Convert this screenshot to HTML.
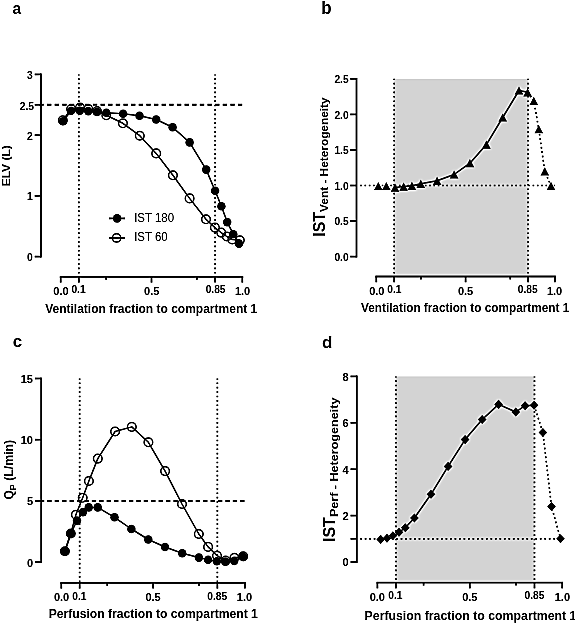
<!DOCTYPE html><html><head><meta charset="utf-8"><style>html,body{margin:0;padding:0;background:#fff;}svg{display:block;}text{font-family:"Liberation Sans", sans-serif;fill:#000;}</style></head><body>
<svg width="575" height="623" viewBox="0 0 575 623">
<defs><filter id="usm" x="0" y="0" width="575" height="623" filterUnits="userSpaceOnUse" color-interpolation-filters="sRGB"><feGaussianBlur in="SourceGraphic" stdDeviation="0.35" result="s"/><feGaussianBlur in="s" stdDeviation="0.9" result="b"/><feComposite in="s" in2="b" operator="arithmetic" k1="0" k2="1.9" k3="-0.9" k4="0"/></filter></defs>
<g filter="url(#usm)">
<rect width="575" height="623" fill="#fff"/>
<text transform="translate(12.6 13.8) scale(0.93 1)" font-size="16.6" font-weight="bold" text-anchor="start" >a</text>
<path d="M78.86 74.41 V276" stroke="#000" stroke-width="1.7" stroke-dasharray="1.6 2.8" stroke-dashoffset="0.45"/>
<path d="M215.06 74.41 V276" stroke="#000" stroke-width="1.7" stroke-dasharray="1.6 2.8" stroke-dashoffset="0.45"/>
<path d="M39.36 104.78 H242.2" stroke="#000" stroke-width="2" stroke-dasharray="4.4 3.24"/>
<path d="M41 73.51 V257.5" stroke="#000" stroke-width="1.8" fill="none"/>
<path d="M34.7 74.41 H41" stroke="#000" stroke-width="1.8"/>
<text transform="translate(32.8 78.81) scale(0.94 1)" font-size="11" font-weight="bold" text-anchor="end" >3</text>
<path d="M34.7 104.78 H41" stroke="#000" stroke-width="1.8"/>
<text transform="translate(34 109.88) scale(0.94 1)" font-size="11" font-weight="bold" text-anchor="end" >2.5</text>
<path d="M34.7 135.14 H41" stroke="#000" stroke-width="1.8"/>
<text transform="translate(32.8 139.84) scale(0.94 1)" font-size="11" font-weight="bold" text-anchor="end" >2</text>
<path d="M34.7 195.87 H41" stroke="#000" stroke-width="1.8"/>
<text transform="translate(32.8 200.37) scale(0.94 1)" font-size="11" font-weight="bold" text-anchor="end" >1</text>
<path d="M34.7 256.6 H41" stroke="#000" stroke-width="1.8"/>
<text transform="translate(32.8 261.1) scale(0.94 1)" font-size="11" font-weight="bold" text-anchor="end" >0</text>
<path d="M59.8 276.8 H243.2" stroke="#000" stroke-width="1.8" fill="none"/>
<path d="M60.7 276.8 V282.6" stroke="#000" stroke-width="1.8"/>
<path d="M78.86 276.8 V282.6" stroke="#000" stroke-width="1.8"/>
<path d="M151.5 276.8 V282.6" stroke="#000" stroke-width="1.8"/>
<path d="M215.06 276.8 V282.6" stroke="#000" stroke-width="1.8"/>
<path d="M242.3 276.8 V282.6" stroke="#000" stroke-width="1.8"/>
<path d="M106.1 276.8 V279.8" stroke="#000" stroke-width="1.8"/>
<path d="M196.9 276.8 V279.8" stroke="#000" stroke-width="1.8"/>
<text x="61.0" y="294.9" font-size="11" font-weight="bold" text-anchor="middle" >0.0</text>
<text transform="translate(78.5 293.4) scale(0.93 1)" font-size="11" font-weight="bold" text-anchor="middle" >0.1</text>
<text x="151.7" y="295.2" font-size="11" font-weight="bold" text-anchor="middle" >0.5</text>
<text transform="translate(215.6 293.0) scale(0.93 1)" font-size="11" font-weight="bold" text-anchor="middle" >0.85</text>
<text x="242.6" y="295.3" font-size="11" font-weight="bold" text-anchor="middle" >1.0</text>
<text x="45.2" y="312.6" font-size="12" font-weight="bold" text-anchor="start" >Ventilation fraction to compartment 1</text>
<text transform="translate(9.9 165.8) rotate(-90)" text-anchor="middle" font-size="11.4" font-weight="bold" textLength="41" lengthAdjust="spacingAndGlyphs">ELV (L)</text>
<path d="M62.80 120.30 L71.10 109.10 L80.00 107.60 L88.30 109.10 L97.00 111.00 L106.30 115.30 L122.90 123.30 L139.80 135.70 L156.20 153.40 L172.90 175.30 L189.60 198.40 L206.00 219.30 L214.90 227.60 L221.20 232.60 L226.80 236.50 L232.30 239.40 L239.80 240.30" fill="none" stroke="#000" stroke-width="1.5" stroke-linejoin="round"/>
<ellipse cx="62.8" cy="120.3" rx="4.3" ry="4.3" fill="none" stroke="#000" stroke-width="1.45"/>
<ellipse cx="71.1" cy="109.1" rx="4.3" ry="4.3" fill="none" stroke="#000" stroke-width="1.45"/>
<ellipse cx="80.0" cy="107.6" rx="4.3" ry="4.3" fill="none" stroke="#000" stroke-width="1.45"/>
<ellipse cx="88.3" cy="109.1" rx="4.3" ry="4.3" fill="none" stroke="#000" stroke-width="1.45"/>
<ellipse cx="97.0" cy="111.0" rx="4.3" ry="4.3" fill="none" stroke="#000" stroke-width="1.45"/>
<ellipse cx="106.3" cy="115.3" rx="4.3" ry="4.3" fill="none" stroke="#000" stroke-width="1.45"/>
<ellipse cx="122.9" cy="123.3" rx="4.3" ry="4.3" fill="none" stroke="#000" stroke-width="1.45"/>
<ellipse cx="139.8" cy="135.7" rx="4.3" ry="4.3" fill="none" stroke="#000" stroke-width="1.45"/>
<ellipse cx="156.2" cy="153.4" rx="4.3" ry="4.3" fill="none" stroke="#000" stroke-width="1.45"/>
<ellipse cx="172.9" cy="175.3" rx="4.3" ry="4.3" fill="none" stroke="#000" stroke-width="1.45"/>
<ellipse cx="189.6" cy="198.4" rx="4.3" ry="4.3" fill="none" stroke="#000" stroke-width="1.45"/>
<ellipse cx="206.0" cy="219.3" rx="4.3" ry="4.3" fill="none" stroke="#000" stroke-width="1.45"/>
<ellipse cx="214.9" cy="227.6" rx="4.3" ry="4.3" fill="none" stroke="#000" stroke-width="1.45"/>
<ellipse cx="221.2" cy="232.6" rx="4.3" ry="4.3" fill="none" stroke="#000" stroke-width="1.45"/>
<ellipse cx="226.8" cy="236.5" rx="4.3" ry="4.3" fill="none" stroke="#000" stroke-width="1.45"/>
<ellipse cx="232.3" cy="239.4" rx="4.3" ry="4.3" fill="none" stroke="#000" stroke-width="1.45"/>
<ellipse cx="239.8" cy="240.3" rx="4.3" ry="4.3" fill="none" stroke="#000" stroke-width="1.45"/>
<path d="M63.00 121.20 L71.10 110.70 L79.80 110.70 L88.30 111.10 L97.00 111.90 L106.30 112.70 L123.10 113.70 L139.50 115.80 L156.20 119.50 L172.60 127.20 L189.60 142.40 L206.20 169.60 L215.10 190.70 L221.40 206.30 L227.20 222.10 L233.30 234.20 L239.00 243.60" fill="none" stroke="#000" stroke-width="1.5" stroke-linejoin="round"/>
<ellipse cx="63.0" cy="121.2" rx="4.25" ry="4.3" fill="#000"/>
<ellipse cx="71.1" cy="110.7" rx="4.25" ry="4.3" fill="#000"/>
<ellipse cx="79.8" cy="110.7" rx="4.25" ry="4.3" fill="#000"/>
<ellipse cx="88.3" cy="111.1" rx="4.25" ry="4.3" fill="#000"/>
<ellipse cx="97.0" cy="111.9" rx="4.25" ry="4.3" fill="#000"/>
<ellipse cx="106.3" cy="112.7" rx="4.25" ry="4.3" fill="#000"/>
<ellipse cx="123.1" cy="113.7" rx="4.25" ry="4.3" fill="#000"/>
<ellipse cx="139.5" cy="115.8" rx="4.25" ry="4.3" fill="#000"/>
<ellipse cx="156.2" cy="119.5" rx="4.25" ry="4.3" fill="#000"/>
<ellipse cx="172.6" cy="127.2" rx="4.25" ry="4.3" fill="#000"/>
<ellipse cx="189.6" cy="142.4" rx="4.25" ry="4.3" fill="#000"/>
<ellipse cx="206.2" cy="169.6" rx="4.25" ry="4.3" fill="#000"/>
<ellipse cx="215.1" cy="190.7" rx="4.25" ry="4.3" fill="#000"/>
<ellipse cx="221.4" cy="206.3" rx="4.25" ry="4.3" fill="#000"/>
<ellipse cx="227.2" cy="222.1" rx="4.25" ry="4.3" fill="#000"/>
<ellipse cx="233.3" cy="234.2" rx="4.25" ry="4.3" fill="#000"/>
<ellipse cx="239.0" cy="243.6" rx="4.25" ry="4.3" fill="#000"/>
<path d="M109.00 218.40 L125.00 218.40" fill="none" stroke="#000" stroke-width="1.8" stroke-linejoin="round"/>
<ellipse cx="117.1" cy="218.4" rx="4.25" ry="4.3" fill="#000"/>
<path d="M109.00 237.90 L125.00 237.90" fill="none" stroke="#000" stroke-width="1.8" stroke-linejoin="round"/>
<ellipse cx="116.6" cy="237.9" rx="4.1" ry="4.2" fill="none" stroke="#000" stroke-width="1.45"/>
<text x="134.2" y="221.9" font-size="12" font-weight="normal" text-anchor="start" textLength="39.9" lengthAdjust="spacingAndGlyphs">IST 180</text>
<text x="134.2" y="241.4" font-size="12" font-weight="normal" text-anchor="start" textLength="33.4" lengthAdjust="spacingAndGlyphs">IST 60</text>
<text transform="translate(321.3 13.8) scale(0.95 1)" font-size="17.8" font-weight="bold" text-anchor="start" >b</text>
<rect x="394.16" y="78.85" width="133.95" height="196.35" fill="#d3d3d3"/>
<path d="M394.16 78.85 V276" stroke="#000" stroke-width="1.7" stroke-dasharray="1.6 2.8" stroke-dashoffset="0.45"/>
<path d="M528.11 78.85 V276" stroke="#000" stroke-width="1.7" stroke-dasharray="1.6 2.8" stroke-dashoffset="0.45"/>
<path d="M360.2 185.50 H555" stroke="#000" stroke-width="1.7" stroke-dasharray="1.6 2.71"/>
<path d="M356.5 77.95 V257.5" stroke="#000" stroke-width="1.8" fill="none"/>
<path d="M350.2 78.85 H356.5" stroke="#000" stroke-width="1.8"/>
<text transform="translate(348.6 83.25) scale(0.93 1)" font-size="11" font-weight="bold" text-anchor="end" >2.5</text>
<path d="M350.2 114.4 H356.5" stroke="#000" stroke-width="1.8"/>
<text transform="translate(348.6 118.8) scale(0.93 1)" font-size="11" font-weight="bold" text-anchor="end" >2.0</text>
<path d="M350.2 149.95 H356.5" stroke="#000" stroke-width="1.8"/>
<text transform="translate(348.6 154.35) scale(0.93 1)" font-size="11" font-weight="bold" text-anchor="end" >1.5</text>
<path d="M350.2 185.5 H356.5" stroke="#000" stroke-width="1.8"/>
<text transform="translate(348.6 189.9) scale(0.93 1)" font-size="11" font-weight="bold" text-anchor="end" >1.0</text>
<path d="M350.2 221.05 H356.5" stroke="#000" stroke-width="1.8"/>
<text transform="translate(348.6 225.45) scale(0.93 1)" font-size="11" font-weight="bold" text-anchor="end" >0.5</text>
<path d="M350.2 256.6 H356.5" stroke="#000" stroke-width="1.8"/>
<text transform="translate(348.6 261.0) scale(0.93 1)" font-size="11" font-weight="bold" text-anchor="end" >0.0</text>
<path d="M375.4 276.5 H555.8" stroke="#000" stroke-width="1.8" fill="none"/>
<path d="M376.3 276.5 V282.3" stroke="#000" stroke-width="1.8"/>
<path d="M394.16 276.5 V282.3" stroke="#000" stroke-width="1.8"/>
<path d="M465.6 276.5 V282.3" stroke="#000" stroke-width="1.8"/>
<path d="M528.11 276.5 V282.3" stroke="#000" stroke-width="1.8"/>
<path d="M554.9 276.5 V282.3" stroke="#000" stroke-width="1.8"/>
<path d="M420.95 276.5 V279.5" stroke="#000" stroke-width="1.8"/>
<path d="M510.25 276.5 V279.5" stroke="#000" stroke-width="1.8"/>
<text x="376.8" y="294.7" font-size="11" font-weight="bold" text-anchor="middle" >0.0</text>
<text transform="translate(394.3 292.7) scale(0.93 1)" font-size="11" font-weight="bold" text-anchor="middle" >0.1</text>
<text x="465.6" y="294.9" font-size="11" font-weight="bold" text-anchor="middle" >0.5</text>
<text transform="translate(527.7 292.7) scale(0.93 1)" font-size="11" font-weight="bold" text-anchor="middle" >0.85</text>
<text x="554.6" y="295.0" font-size="11" font-weight="bold" text-anchor="middle" >1.0</text>
<text x="361.0" y="311.8" font-size="12" font-weight="bold" text-anchor="start" textLength="208.2" lengthAdjust="spacingAndGlyphs">Ventilation fraction to compartment 1</text>
<text transform="translate(324.5 236.8) rotate(-90)" font-weight="bold"><tspan font-size="16">IST</tspan><tspan font-size="11.6" dy="3.6" textLength="114.5" lengthAdjust="spacingAndGlyphs">Vent - Heterogeneity</tspan></text>
<path d="M395.00 187.60 L403.60 186.60 L411.90 185.80 L420.80 183.80 L437.10 180.80 L454.10 174.50 L469.90 163.20 L486.40 144.60 L502.70 117.50 L519.00 90.50 L527.60 92.30" fill="none" stroke="#000" stroke-width="1.5" stroke-linejoin="round"/>
<path d="M527.60 92.30 L533.80 100.90 L538.80 129.20 L544.80 171.30 L551.00 185.80" fill="none" stroke="#000" stroke-width="1.6" stroke-linejoin="round" stroke-dasharray="1.7 2.7"/>
<path d="M378.30 181.90L382.60 190.10L374.00 190.10Z" fill="#000"/>
<path d="M386.30 181.90L390.60 190.10L382.00 190.10Z" fill="#000"/>
<path d="M395.00 183.50L399.30 191.70L390.70 191.70Z" fill="#000"/>
<path d="M403.60 182.50L407.90 190.70L399.30 190.70Z" fill="#000"/>
<path d="M411.90 181.70L416.20 189.90L407.60 189.90Z" fill="#000"/>
<path d="M420.80 179.70L425.10 187.90L416.50 187.90Z" fill="#000"/>
<path d="M437.10 176.70L441.40 184.90L432.80 184.90Z" fill="#000"/>
<path d="M454.10 170.40L458.40 178.60L449.80 178.60Z" fill="#000"/>
<path d="M469.90 159.10L474.20 167.30L465.60 167.30Z" fill="#000"/>
<path d="M486.40 140.50L490.70 148.70L482.10 148.70Z" fill="#000"/>
<path d="M502.70 113.40L507.00 121.60L498.40 121.60Z" fill="#000"/>
<path d="M519.00 86.40L523.30 94.60L514.70 94.60Z" fill="#000"/>
<path d="M527.60 88.20L531.90 96.40L523.30 96.40Z" fill="#000"/>
<path d="M533.80 96.80L538.10 105.00L529.50 105.00Z" fill="#000"/>
<path d="M538.80 125.10L543.10 133.30L534.50 133.30Z" fill="#000"/>
<path d="M544.80 167.20L549.10 175.40L540.50 175.40Z" fill="#000"/>
<path d="M551.00 181.70L555.30 189.90L546.70 189.90Z" fill="#000"/>
<text x="12.7" y="347.2" font-size="16.8" font-weight="bold" text-anchor="start" >c</text>
<path d="M79.66 378.50 V582" stroke="#000" stroke-width="1.7" stroke-dasharray="1.6 2.8" stroke-dashoffset="0.45"/>
<path d="M217.36 378.50 V582" stroke="#000" stroke-width="1.7" stroke-dasharray="1.6 2.8" stroke-dashoffset="0.45"/>
<path d="M39.9 500.90 H244.5" stroke="#000" stroke-width="2" stroke-dasharray="4.3 3.12"/>
<path d="M41.2 377.6 V563.0" stroke="#000" stroke-width="1.8" fill="none"/>
<path d="M34.9 378.5 H41.2" stroke="#000" stroke-width="1.8"/>
<text x="33" y="382.9" font-size="11" font-weight="bold" text-anchor="end" >15</text>
<path d="M34.9 439.7 H41.2" stroke="#000" stroke-width="1.8"/>
<text x="33" y="444.1" font-size="11" font-weight="bold" text-anchor="end" >10</text>
<path d="M34.9 500.9 H41.2" stroke="#000" stroke-width="1.8"/>
<text x="33" y="505.3" font-size="11" font-weight="bold" text-anchor="end" >5</text>
<path d="M34.9 562.1 H41.2" stroke="#000" stroke-width="1.8"/>
<text x="33" y="566.5" font-size="11" font-weight="bold" text-anchor="end" >0</text>
<path d="M60.4 582.8 H245.8" stroke="#000" stroke-width="1.8" fill="none"/>
<path d="M61.3 582.8 V588.6" stroke="#000" stroke-width="1.8"/>
<path d="M79.66 582.8 V588.6" stroke="#000" stroke-width="1.8"/>
<path d="M153.1 582.8 V588.6" stroke="#000" stroke-width="1.8"/>
<path d="M217.36 582.8 V588.6" stroke="#000" stroke-width="1.8"/>
<path d="M244.9 582.8 V588.6" stroke="#000" stroke-width="1.8"/>
<path d="M107.2 582.8 V585.8" stroke="#000" stroke-width="1.8"/>
<path d="M199.0 582.8 V585.8" stroke="#000" stroke-width="1.8"/>
<text x="61.6" y="601.1" font-size="11" font-weight="bold" text-anchor="middle" >0.0</text>
<text transform="translate(79.4 599.6) scale(0.93 1)" font-size="11" font-weight="bold" text-anchor="middle" >0.1</text>
<text x="153.1" y="601.0" font-size="11" font-weight="bold" text-anchor="middle" >0.5</text>
<text transform="translate(217.3 599.6) scale(0.93 1)" font-size="11" font-weight="bold" text-anchor="middle" >0.85</text>
<text x="244.5" y="601.1" font-size="11" font-weight="bold" text-anchor="middle" >1.0</text>
<text x="48.7" y="617.6" font-size="12.15" font-weight="bold" text-anchor="start" >Perfusion fraction to compartment 1</text>
<text transform="translate(13.2 499.6) rotate(-90)" font-weight="bold" font-size="12">Q<tspan font-size="8.8" x="9.3" y="2.3">P</tspan><tspan x="18.8" y="0" textLength="41.0" lengthAdjust="spacingAndGlyphs">(L/min)</tspan></text>
<path d="M64.90 551.30 L70.80 533.50 L75.90 514.80 L82.70 497.80 L88.90 481.00 L97.80 458.60 L115.10 431.50 L131.80 426.90 L148.40 442.30 L165.10 471.10 L182.00 504.00 L198.80 534.00 L208.10 546.90 L217.00 555.70 L225.60 560.60 L234.40 557.80 L243.20 556.30" fill="none" stroke="#000" stroke-width="1.5" stroke-linejoin="round"/>
<ellipse cx="64.9" cy="551.3" rx="4.3" ry="4.3" fill="none" stroke="#000" stroke-width="1.45"/>
<ellipse cx="70.8" cy="533.5" rx="4.3" ry="4.3" fill="none" stroke="#000" stroke-width="1.45"/>
<ellipse cx="75.9" cy="514.8" rx="4.3" ry="4.3" fill="none" stroke="#000" stroke-width="1.45"/>
<ellipse cx="82.7" cy="497.8" rx="4.3" ry="4.3" fill="none" stroke="#000" stroke-width="1.45"/>
<ellipse cx="88.9" cy="481.0" rx="4.3" ry="4.3" fill="none" stroke="#000" stroke-width="1.45"/>
<ellipse cx="97.8" cy="458.6" rx="4.3" ry="4.3" fill="none" stroke="#000" stroke-width="1.45"/>
<ellipse cx="115.1" cy="431.5" rx="4.3" ry="4.3" fill="none" stroke="#000" stroke-width="1.45"/>
<ellipse cx="131.8" cy="426.9" rx="4.3" ry="4.3" fill="none" stroke="#000" stroke-width="1.45"/>
<ellipse cx="148.4" cy="442.3" rx="4.3" ry="4.3" fill="none" stroke="#000" stroke-width="1.45"/>
<ellipse cx="165.1" cy="471.1" rx="4.3" ry="4.3" fill="none" stroke="#000" stroke-width="1.45"/>
<ellipse cx="182.0" cy="504.0" rx="4.3" ry="4.3" fill="none" stroke="#000" stroke-width="1.45"/>
<ellipse cx="198.8" cy="534.0" rx="4.3" ry="4.3" fill="none" stroke="#000" stroke-width="1.45"/>
<ellipse cx="208.1" cy="546.9" rx="4.3" ry="4.3" fill="none" stroke="#000" stroke-width="1.45"/>
<ellipse cx="217.0" cy="555.7" rx="4.3" ry="4.3" fill="none" stroke="#000" stroke-width="1.45"/>
<ellipse cx="225.6" cy="560.6" rx="4.3" ry="4.3" fill="none" stroke="#000" stroke-width="1.45"/>
<ellipse cx="234.4" cy="557.8" rx="4.3" ry="4.3" fill="none" stroke="#000" stroke-width="1.45"/>
<ellipse cx="243.2" cy="556.3" rx="4.3" ry="4.3" fill="none" stroke="#000" stroke-width="1.45"/>
<path d="M64.90 551.30 L70.80 533.50 L77.00 520.60 L82.90 512.10 L88.70 507.40 L97.70 507.40 L114.50 517.30 L131.40 529.00 L148.30 539.50 L165.00 547.00 L182.20 553.20 L198.90 557.60 L208.10 559.80 L216.90 561.20 L225.40 561.60 L234.20 560.90 L243.10 556.90" fill="none" stroke="#000" stroke-width="1.5" stroke-linejoin="round"/>
<ellipse cx="64.9" cy="551.3" rx="4.25" ry="4.3" fill="#000"/>
<ellipse cx="70.8" cy="533.5" rx="4.25" ry="4.3" fill="#000"/>
<ellipse cx="77.0" cy="520.6" rx="4.25" ry="4.3" fill="#000"/>
<ellipse cx="82.9" cy="512.1" rx="4.25" ry="4.3" fill="#000"/>
<ellipse cx="88.7" cy="507.4" rx="4.25" ry="4.3" fill="#000"/>
<ellipse cx="97.7" cy="507.4" rx="4.25" ry="4.3" fill="#000"/>
<ellipse cx="114.5" cy="517.3" rx="4.25" ry="4.3" fill="#000"/>
<ellipse cx="131.4" cy="529.0" rx="4.25" ry="4.3" fill="#000"/>
<ellipse cx="148.3" cy="539.5" rx="4.25" ry="4.3" fill="#000"/>
<ellipse cx="165.0" cy="547.0" rx="4.25" ry="4.3" fill="#000"/>
<ellipse cx="182.2" cy="553.2" rx="4.25" ry="4.3" fill="#000"/>
<ellipse cx="198.9" cy="557.6" rx="4.25" ry="4.3" fill="#000"/>
<ellipse cx="208.1" cy="559.8" rx="4.25" ry="4.3" fill="#000"/>
<ellipse cx="216.9" cy="561.2" rx="4.25" ry="4.3" fill="#000"/>
<ellipse cx="225.4" cy="561.6" rx="4.25" ry="4.3" fill="#000"/>
<ellipse cx="234.2" cy="560.9" rx="4.25" ry="4.3" fill="#000"/>
<ellipse cx="243.1" cy="556.9" rx="4.25" ry="4.3" fill="#000"/>
<text x="321.9" y="347.8" font-size="17" font-weight="bold" text-anchor="start" >d</text>
<rect x="395.88" y="376.40" width="138.60" height="204.80" fill="#d3d3d3"/>
<path d="M395.88 376.40 V582" stroke="#000" stroke-width="1.7" stroke-dasharray="1.6 2.8" stroke-dashoffset="0.45"/>
<path d="M534.48 376.40 V582" stroke="#000" stroke-width="1.7" stroke-dasharray="1.6 2.8" stroke-dashoffset="0.45"/>
<path d="M360.25 538.80 H560" stroke="#000" stroke-width="1.7" stroke-dasharray="1.7 2.79"/>
<path d="M356.8 375.5 V562.9" stroke="#000" stroke-width="1.8" fill="none"/>
<path d="M350.5 376.4 H356.8" stroke="#000" stroke-width="1.8"/>
<text x="348.6" y="380.8" font-size="11" font-weight="bold" text-anchor="end" >8</text>
<path d="M350.5 422.8 H356.8" stroke="#000" stroke-width="1.8"/>
<text x="348.6" y="427.2" font-size="11" font-weight="bold" text-anchor="end" >6</text>
<path d="M350.5 469.2 H356.8" stroke="#000" stroke-width="1.8"/>
<text x="348.6" y="473.6" font-size="11" font-weight="bold" text-anchor="end" >4</text>
<path d="M350.5 515.6 H356.8" stroke="#000" stroke-width="1.8"/>
<text x="348.6" y="520.0" font-size="11" font-weight="bold" text-anchor="end" >2</text>
<path d="M350.5 538.8 H356.8" stroke="#000" stroke-width="1.8"/>
<path d="M350.5 562.0 H356.8" stroke="#000" stroke-width="1.8"/>
<text x="348.6" y="566.4" font-size="11" font-weight="bold" text-anchor="end" >0</text>
<path d="M376.5 582.6 H563.1" stroke="#000" stroke-width="1.8" fill="none"/>
<path d="M377.4 582.6 V588.4" stroke="#000" stroke-width="1.8"/>
<path d="M395.88 582.6 V588.4" stroke="#000" stroke-width="1.8"/>
<path d="M469.8 582.6 V588.4" stroke="#000" stroke-width="1.8"/>
<path d="M534.48 582.6 V588.4" stroke="#000" stroke-width="1.8"/>
<path d="M562.2 582.6 V588.4" stroke="#000" stroke-width="1.8"/>
<path d="M423.6 582.6 V585.6" stroke="#000" stroke-width="1.8"/>
<path d="M516.0 582.6 V585.6" stroke="#000" stroke-width="1.8"/>
<text x="377.3" y="601.1" font-size="11" font-weight="bold" text-anchor="middle" >0.0</text>
<text transform="translate(395.3 599.2) scale(0.93 1)" font-size="11" font-weight="bold" text-anchor="middle" >0.1</text>
<text x="469.8" y="601.1" font-size="11" font-weight="bold" text-anchor="middle" >0.5</text>
<text transform="translate(534.4 599.2) scale(0.93 1)" font-size="11" font-weight="bold" text-anchor="middle" >0.85</text>
<text x="562.4" y="601.1" font-size="11" font-weight="bold" text-anchor="middle" >1.0</text>
<text x="364.6" y="619.7" font-size="12.3" font-weight="bold" text-anchor="start" >Perfusion fraction to compartment 1</text>
<text transform="translate(334.9 542.0) rotate(-90)" font-weight="bold"><tspan font-size="16">IST</tspan><tspan font-size="11.5" dy="3.4" textLength="119.5" lengthAdjust="spacingAndGlyphs">Perf - Heterogeneity</tspan></text>
<path d="M392.90 535.80 L399.00 532.30 L405.30 527.70 L414.40 518.00 L431.00 494.30 L448.10 466.40 L465.10 439.60 L482.20 419.50 L498.60 404.40 L515.80 412.00 L525.10 405.70 L534.10 405.20" fill="none" stroke="#000" stroke-width="1.5" stroke-linejoin="round"/>
<path d="M534.10 405.20 L542.90 432.50 L551.50 506.50 L560.50 538.70" fill="none" stroke="#000" stroke-width="1.6" stroke-linejoin="round" stroke-dasharray="1.7 2.7"/>
<path d="M380.70 534.85L385.00 539.40L380.70 543.95L376.40 539.40Z" fill="#000"/>
<path d="M387.00 533.65L391.30 538.20L387.00 542.75L382.70 538.20Z" fill="#000"/>
<path d="M392.90 531.25L397.20 535.80L392.90 540.35L388.60 535.80Z" fill="#000"/>
<path d="M399.00 527.75L403.30 532.30L399.00 536.85L394.70 532.30Z" fill="#000"/>
<path d="M405.30 523.15L409.60 527.70L405.30 532.25L401.00 527.70Z" fill="#000"/>
<path d="M414.40 513.45L418.70 518.00L414.40 522.55L410.10 518.00Z" fill="#000"/>
<path d="M431.00 489.75L435.30 494.30L431.00 498.85L426.70 494.30Z" fill="#000"/>
<path d="M448.10 461.85L452.40 466.40L448.10 470.95L443.80 466.40Z" fill="#000"/>
<path d="M465.10 435.05L469.40 439.60L465.10 444.15L460.80 439.60Z" fill="#000"/>
<path d="M482.20 414.95L486.50 419.50L482.20 424.05L477.90 419.50Z" fill="#000"/>
<path d="M498.60 399.85L502.90 404.40L498.60 408.95L494.30 404.40Z" fill="#000"/>
<path d="M515.80 407.45L520.10 412.00L515.80 416.55L511.50 412.00Z" fill="#000"/>
<path d="M525.10 401.15L529.40 405.70L525.10 410.25L520.80 405.70Z" fill="#000"/>
<path d="M534.10 400.65L538.40 405.20L534.10 409.75L529.80 405.20Z" fill="#000"/>
<path d="M542.90 427.95L547.20 432.50L542.90 437.05L538.60 432.50Z" fill="#000"/>
<path d="M551.50 501.95L555.80 506.50L551.50 511.05L547.20 506.50Z" fill="#000"/>
<path d="M560.50 534.15L564.80 538.70L560.50 543.25L556.20 538.70Z" fill="#000"/>
</g>
</svg></body></html>
